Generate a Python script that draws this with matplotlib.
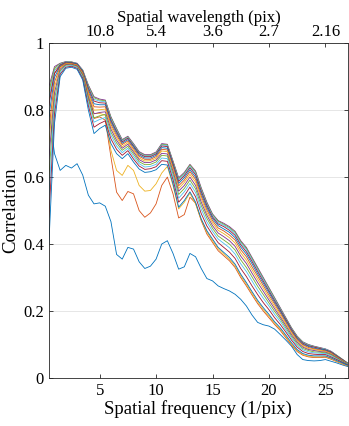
import matplotlib
matplotlib.use('Agg')
import matplotlib.pyplot as plt
import numpy as np

plt.rcParams['font.family'] = ['Liberation Serif', 'DejaVu Serif']

# spatial frequency samples (1/pix)
freq = np.arange(1, 55) * 0.5

# top axis: spatial wavelength labels at the same positions as the bottom ticks
x_ticks = [5, 10, 15, 20, 25]
wavelength_labels = ['10.8', '5.4', '3.6', '2.7', '2.16']
y_ticks = [0, 0.2, 0.4, 0.6, 0.8, 1]
y_tick_labels = ['0', '0.2', '0.4', '0.6', '0.8', '1']

c1 = [0.80, 0.67, 0.62, 0.635, 0.627, 0.64, 0.606, 0.546, 0.52, 0.523, 0.513, 0.467, 0.369, 0.355,
      0.39, 0.385, 0.347, 0.327, 0.334, 0.355, 0.40, 0.41, 0.372, 0.325, 0.332, 0.372, 0.362, 0.327,
      0.297, 0.29, 0.275, 0.267, 0.26, 0.25, 0.235, 0.215, 0.188, 0.166, 0.159, 0.155, 0.146, 0.13,
      0.113, 0.095, 0.07, 0.055, 0.052, 0.051, 0.052, 0.055, 0.05, 0.045, 0.039, 0.034]
c2 = [0.83, 0.91, 0.93, 0.938, 0.938, 0.932, 0.905, 0.835, 0.775, 0.78, 0.77, 0.66, 0.555, 0.53,
      0.557, 0.55, 0.50, 0.48, 0.493, 0.52, 0.575, 0.60, 0.55, 0.478, 0.488, 0.54, 0.522, 0.47,
      0.43, 0.405, 0.38, 0.365, 0.35, 0.33, 0.30, 0.275, 0.248, 0.222, 0.20, 0.18, 0.16, 0.142,
      0.12, 0.098, 0.079, 0.068, 0.063, 0.061, 0.061, 0.062, 0.056, 0.049, 0.042, 0.036]
c3 = [0.85, 0.92, 0.935, 0.94, 0.94, 0.935, 0.91, 0.85, 0.79, 0.79, 0.785, 0.68, 0.62, 0.605,
      0.635, 0.62, 0.575, 0.558, 0.56, 0.58, 0.612, 0.632, 0.575, 0.505, 0.525, 0.552, 0.52, 0.472,
      0.436, 0.41, 0.386, 0.37, 0.355, 0.335, 0.305, 0.28, 0.253, 0.227, 0.205, 0.185, 0.164, 0.146,
      0.124, 0.101, 0.082, 0.07, 0.065, 0.063, 0.063, 0.064, 0.058, 0.05, 0.043, 0.037]
c4 = [0.87, 0.93, 0.94, 0.945, 0.944, 0.94, 0.92, 0.875, 0.84, 0.833, 0.83, 0.78, 0.745, 0.712,
      0.722, 0.70, 0.676, 0.667, 0.667, 0.675, 0.70, 0.698, 0.648, 0.598, 0.614, 0.638, 0.618, 0.568,
      0.525, 0.49, 0.47, 0.462, 0.452, 0.438, 0.41, 0.39, 0.36, 0.33, 0.30, 0.27, 0.24, 0.21,
      0.18, 0.15, 0.125, 0.108, 0.10, 0.095, 0.091, 0.087, 0.08, 0.068, 0.056, 0.044]
c5 = [0.856, 0.925, 0.939, 0.944, 0.944, 0.939, 0.919, 0.873, 0.837, 0.830, 0.828, 0.778, 0.743, 0.710,
      0.720, 0.698, 0.674, 0.665, 0.665, 0.673, 0.698, 0.696, 0.646, 0.595, 0.611, 0.636, 0.615, 0.565,
      0.522, 0.488, 0.468, 0.459, 0.449, 0.435, 0.407, 0.387, 0.357, 0.327, 0.297, 0.268, 0.238, 0.208,
      0.178, 0.149, 0.124, 0.107, 0.099, 0.094, 0.090, 0.086, 0.079, 0.068, 0.056, 0.044]
c6 = [0.837, 0.918, 0.937, 0.944, 0.943, 0.939, 0.918, 0.870, 0.832, 0.827, 0.825, 0.774, 0.740, 0.708,
      0.718, 0.696, 0.672, 0.663, 0.663, 0.671, 0.696, 0.694, 0.643, 0.592, 0.608, 0.632, 0.611, 0.561,
      0.519, 0.485, 0.464, 0.456, 0.446, 0.431, 0.403, 0.383, 0.353, 0.323, 0.294, 0.264, 0.235, 0.206,
      0.176, 0.147, 0.122, 0.106, 0.098, 0.093, 0.089, 0.086, 0.079, 0.067, 0.055, 0.044]
c7 = [0.814, 0.910, 0.935, 0.943, 0.942, 0.938, 0.916, 0.866, 0.827, 0.822, 0.821, 0.770, 0.736, 0.705,
      0.716, 0.693, 0.670, 0.661, 0.661, 0.669, 0.693, 0.691, 0.640, 0.587, 0.604, 0.628, 0.607, 0.557,
      0.515, 0.481, 0.460, 0.452, 0.441, 0.426, 0.398, 0.377, 0.348, 0.318, 0.289, 0.260, 0.231, 0.203,
      0.174, 0.145, 0.120, 0.104, 0.096, 0.092, 0.088, 0.084, 0.078, 0.066, 0.055, 0.043]
c8 = [0.781, 0.898, 0.932, 0.941, 0.941, 0.937, 0.914, 0.861, 0.819, 0.816, 0.816, 0.765, 0.731, 0.701,
      0.712, 0.690, 0.666, 0.657, 0.657, 0.665, 0.688, 0.686, 0.635, 0.581, 0.598, 0.622, 0.600, 0.550,
      0.509, 0.476, 0.455, 0.445, 0.435, 0.419, 0.391, 0.370, 0.341, 0.311, 0.283, 0.255, 0.226, 0.199,
      0.170, 0.141, 0.117, 0.101, 0.094, 0.089, 0.086, 0.083, 0.076, 0.065, 0.054, 0.043]
c9 = [0.743, 0.884, 0.929, 0.940, 0.940, 0.935, 0.912, 0.855, 0.810, 0.809, 0.810, 0.758, 0.725, 0.697,
      0.708, 0.685, 0.662, 0.653, 0.653, 0.661, 0.683, 0.681, 0.630, 0.574, 0.591, 0.616, 0.593, 0.543,
      0.502, 0.470, 0.448, 0.439, 0.427, 0.412, 0.383, 0.362, 0.332, 0.304, 0.276, 0.248, 0.221, 0.194,
      0.166, 0.138, 0.114, 0.099, 0.091, 0.087, 0.084, 0.081, 0.075, 0.064, 0.053, 0.042]
c10 = [0.701, 0.869, 0.926, 0.938, 0.938, 0.934, 0.909, 0.848, 0.800, 0.801, 0.803, 0.751, 0.718, 0.691,
       0.703, 0.680, 0.657, 0.648, 0.649, 0.656, 0.678, 0.676, 0.624, 0.566, 0.584, 0.608, 0.585, 0.535,
       0.494, 0.463, 0.441, 0.431, 0.419, 0.403, 0.374, 0.352, 0.323, 0.295, 0.268, 0.241, 0.214, 0.188,
       0.161, 0.134, 0.111, 0.095, 0.088, 0.085, 0.082, 0.079, 0.073, 0.062, 0.052, 0.042]
c11 = [0.654, 0.852, 0.922, 0.936, 0.937, 0.932, 0.906, 0.840, 0.789, 0.793, 0.795, 0.743, 0.710, 0.686,
       0.698, 0.675, 0.652, 0.643, 0.644, 0.651, 0.671, 0.669, 0.617, 0.558, 0.575, 0.600, 0.575, 0.525,
       0.486, 0.455, 0.433, 0.422, 0.410, 0.393, 0.364, 0.342, 0.313, 0.285, 0.259, 0.233, 0.207, 0.182,
       0.156, 0.129, 0.107, 0.092, 0.085, 0.082, 0.079, 0.077, 0.071, 0.061, 0.051, 0.041]
c12 = [0.602, 0.833, 0.917, 0.934, 0.935, 0.930, 0.903, 0.832, 0.777, 0.783, 0.787, 0.734, 0.702, 0.680,
       0.692, 0.669, 0.646, 0.637, 0.638, 0.645, 0.665, 0.663, 0.609, 0.548, 0.566, 0.591, 0.565, 0.515,
       0.477, 0.447, 0.424, 0.412, 0.400, 0.382, 0.353, 0.330, 0.302, 0.274, 0.249, 0.224, 0.199, 0.176,
       0.150, 0.124, 0.102, 0.088, 0.082, 0.078, 0.077, 0.075, 0.069, 0.059, 0.050, 0.041]
c13 = [0.546, 0.813, 0.912, 0.931, 0.933, 0.928, 0.899, 0.823, 0.764, 0.772, 0.778, 0.725, 0.693, 0.673,
       0.686, 0.662, 0.640, 0.630, 0.632, 0.638, 0.657, 0.655, 0.601, 0.537, 0.556, 0.581, 0.554, 0.504,
       0.466, 0.438, 0.415, 0.402, 0.389, 0.370, 0.341, 0.318, 0.290, 0.262, 0.238, 0.215, 0.190, 0.169,
       0.144, 0.119, 0.097, 0.084, 0.078, 0.075, 0.074, 0.073, 0.066, 0.057, 0.048, 0.040]
c14 = [0.480, 0.789, 0.907, 0.928, 0.931, 0.925, 0.895, 0.813, 0.749, 0.760, 0.768, 0.714, 0.683, 0.665,
       0.679, 0.654, 0.633, 0.623, 0.625, 0.631, 0.649, 0.647, 0.592, 0.525, 0.544, 0.570, 0.541, 0.491,
       0.454, 0.428, 0.404, 0.390, 0.376, 0.357, 0.327, 0.303, 0.275, 0.249, 0.225, 0.204, 0.180, 0.160,
       0.137, 0.113, 0.092, 0.079, 0.073, 0.071, 0.070, 0.070, 0.063, 0.055, 0.047, 0.039]
c15 = [0.40, 0.76, 0.90, 0.925, 0.928, 0.922, 0.89, 0.80, 0.73, 0.745, 0.755, 0.70, 0.67, 0.655,
       0.67, 0.645, 0.624, 0.614, 0.616, 0.622, 0.638, 0.636, 0.58, 0.51, 0.53, 0.556, 0.525, 0.475,
       0.44, 0.415, 0.39, 0.375, 0.36, 0.34, 0.31, 0.285, 0.258, 0.232, 0.21, 0.19, 0.168, 0.15,
       0.128, 0.105, 0.085, 0.073, 0.068, 0.066, 0.066, 0.066, 0.06, 0.052, 0.045, 0.038]

curves = [c1, c2, c3, c4, c5, c6, c7, c8, c9, c10, c11, c12, c13, c14, c15]

# MATLAB default colour order
colors = ['#0072BD', '#D95319', '#EDB120', '#7E2F8E', '#77AC30', '#4DBEEE', '#A2142F']

fig = plt.figure(figsize=(3.49, 4.26), dpi=100)
ax = fig.add_axes([0.140, 0.1127, 0.857, 0.786])

for i, c in enumerate(curves):
    ax.plot(freq, c, color=colors[i % len(colors)], lw=0.6)

ax.set_xlim(0.5, 27)
ax.set_ylim(0, 1)
ax.set_xticks(x_ticks)
ax.set_yticks(y_ticks)
ax.set_yticklabels(y_tick_labels)
ax.yaxis.grid(True, color='#e6e6e6', lw=0.7)
ax.set_axisbelow(True)
ax.tick_params(direction='in', length=3, width=0.6, colors='#262626', labelsize=12,
               right=True, labelcolor='black')
for s in ax.spines.values():
    s.set_color('#262626')
    s.set_linewidth(0.6)
ax.set_xlabel('Spatial frequency (1/pix)', fontsize=13.5, labelpad=1)
ax.set_ylabel('Correlation', fontsize=13.5, labelpad=3)

ax2 = ax.twiny()
ax2.set_xlim(ax.get_xlim())
ax2.set_xticks(x_ticks)
ax2.set_xticklabels(wavelength_labels)
ax2.tick_params(direction='in', length=3, width=0.6, colors='#262626', labelsize=12,
                labelcolor='black', pad=2)
ax2.set_xlabel('Spatial wavelength (pix)', fontsize=12, labelpad=2)
for s in ax2.spines.values():
    s.set_visible(False)

fig.savefig('out.png', dpi=100)
